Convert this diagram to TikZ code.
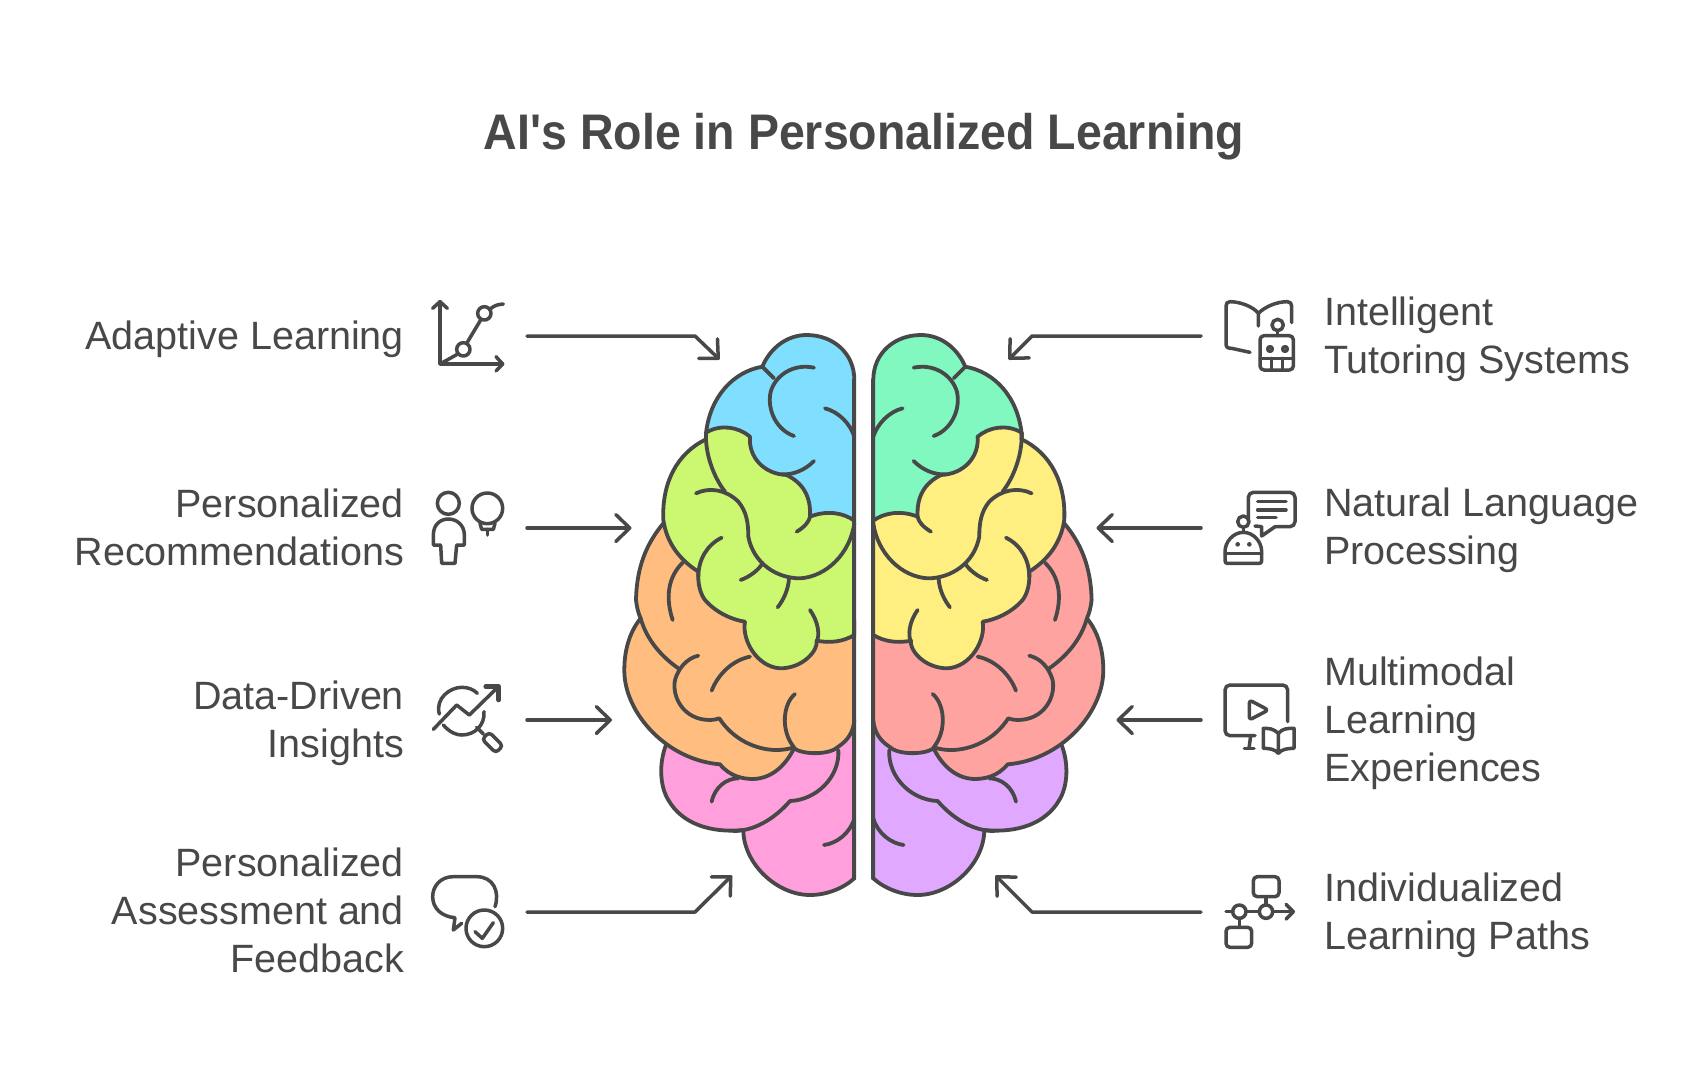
\documentclass[tikz,border=0pt]{standalone}
\usepackage{fontspec}
\setmainfont{Liberation Sans}
\newfontfamily\headfont[FakeStretch=0.93]{Liberation Sans}
\usetikzlibrary{arrows.meta}
\definecolor{ink}{HTML}{484848}
\definecolor{cblue}{HTML}{80DFFF}
\definecolor{cgreen}{HTML}{CCF871}
\definecolor{corange}{HTML}{FFBD80}
\definecolor{cpink}{HTML}{FFA0DD}
\definecolor{cteal}{HTML}{80F8C0}
\definecolor{cyellow}{HTML}{FFEE80}
\definecolor{csalmon}{HTML}{FFA3A0}
\definecolor{cpurple}{HTML}{E0A8FF}
\tikzset{
  brainline/.style={draw=ink,line width=3.8pt,line cap=round,line join=round},
  iconline/.style={draw=ink,line width=3.5pt,line cap=round,line join=round},
  link/.style={draw=ink,line width=3.5pt,line cap=round,line join=round,
    -{Straight Barb[length=14pt,width=27pt,line width=3.5pt,round]}},
  lefttext/.style={text=ink,anchor=east,align=right,font=\fontsize{39.5}{48}\selectfont},
  righttext/.style={text=ink,anchor=west,align=left,font=\fontsize{39.5}{48}\selectfont},
  titletext/.style={text=ink,font=\fontsize{50}{60}\selectfont\headfont\bfseries},
  zoomframe/.style={x=0.33333pt,y=-0.33333pt},
}
\newcommand{\hemisphere}[4]{%
  % lowest lobes
  \filldraw[brainline,fill=#4]
    (170,1270) .. controls (145,1330) and (150,1400) .. (175,1440)
    .. controls (215,1510) and (300,1540) .. (400,1530)
    .. controls (400,1630) and (500,1725) .. (600,1725)
    .. controls (650,1725) and (700,1705) .. (733,1675)
    -- (733,1200) -- cycle;
  \draw[brainline] (685,1290) .. controls (690,1370) and (620,1440) .. (540,1443)
    .. controls (490,1500) and (430,1533) .. (370,1533);
  \draw[brainline] (305,1445) .. controls (315,1400) and (350,1375) .. (385,1375);
  \draw[brainline] (642,1575) .. controls (680,1570) and (720,1540) .. (733,1495);
  % middle lobes
  \filldraw[brainline,fill=#3]
    (160,610) .. controls (110,670) and (80,740) .. (78,840)
    .. controls (80,860) and (85,880) .. (92,895)
    .. controls (55,940) and (42,1000) .. (43,1055)
    .. controls (45,1180) and (170,1320) .. (330,1333)
    .. controls (360,1370) and (400,1377) .. (430,1377)
    .. controls (490,1375) and (530,1330) .. (552,1285)
    .. controls (580,1305) and (660,1305) .. (685,1280)
    .. controls (715,1260) and (730,1235) .. (733,1200)
    -- (733,900) -- (300,700) -- cycle;
  \draw[brainline] (92,895) .. controls (110,960) and (155,1010) .. (205,1045);
  \draw[brainline] (265,1007) .. controls (230,1015) and (205,1045) .. (195,1080)
    .. controls (185,1130) and (220,1200) .. (300,1200)
    .. controls (310,1200) and (320,1198) .. (328,1195)
    .. controls (370,1260) and (440,1290) .. (500,1290)
    .. controls (520,1290) and (535,1287) .. (552,1282);
  \draw[brainline] (305,1112) .. controls (325,1060) and (370,1020) .. (420,1010);
  \draw[brainline] (555,1122) .. controls (520,1150) and (510,1230) .. (552,1282);
  \draw[brainline] (218,728) .. controls (175,770) and (165,830) .. (188,900);
  % top lobes
  \filldraw[brainline,fill=#1]
    (733,180) .. controls (733,100) and (670,45) .. (590,45)
    .. controls (530,45) and (480,85) .. (457,140)
    .. controls (370,155) and (300,230) .. (288,340)
    -- (300,600) -- (733,600) -- cycle;
  \draw[brainline] (457,140) -- (492,175);
  \draw[brainline] (612,143) .. controls (550,130) and (497,165) .. (482,215)
    .. controls (470,270) and (500,330) .. (552,348);
  \draw[brainline] (645,265) .. controls (685,275) and (720,310) .. (733,350);
  \draw[brainline] (612,423) .. controls (585,450) and (550,465) .. (515,463);
  % front lobes
  \filldraw[brainline,fill=#2]
    (288,338) .. controls (330,312) and (385,320) .. (420,350)
    .. controls (415,410) and (460,462) .. (530,465)
    .. controls (580,490) and (603,530) .. (600,590)
    .. controls (650,570) and (700,578) .. (733,602)
    -- (733,945)
    .. controls (700,965) and (660,970) .. (620,962)
    .. controls (625,990) and (580,1045) .. (510,1045)
    .. controls (440,1040) and (395,960) .. (405,905)
    .. controls (370,900) and (320,880) .. (285,840)
    .. controls (270,820) and (263,790) .. (265,755)
    .. controls (210,720) and (170,670) .. (160,600)
    .. controls (155,490) and (200,400) .. (288,358) -- cycle;
  \draw[brainline] (288,338) .. controls (285,400) and (310,470) .. (345,515);
  \draw[brainline] (258,520) .. controls (300,500) and (350,510) .. (385,545)
    .. controls (410,575) and (415,610) .. (415,650)
    .. controls (430,730) and (500,775) .. (570,775)
    .. controls (650,770) and (720,700) .. (733,610);
  \draw[brainline] (560,635) .. controls (585,620) and (597,605) .. (600,590);
  \draw[brainline] (335,653) .. controls (290,675) and (265,720) .. (265,770);
  \draw[brainline] (392,780) .. controls (420,770) and (445,750) .. (458,730);
  \draw[brainline] (537,775) .. controls (535,810) and (520,840) .. (503,862);
  \draw[brainline] (600,870) .. controls (625,905) and (630,945) .. (620,965);
  % midline
  \draw[brainline] (733,180) -- (733,1675);
}
\begin{document}
\begin{tikzpicture}[x=1pt,y=-1pt]
\useasboundingbox (0,0) rectangle (1704,1080);
\fill[white] (0,0) rectangle (1704,1080);
\node[titletext] (title) at (864,137) {AI\symbol{39}s Role in Personalized Learning};

% brain
\begin{scope}[shift={(610,320)},zoomframe]
  \hemisphere{cblue}{cgreen}{corange}{cpink}
\end{scope}
\begin{scope}[shift={(1117.6,320)},x=-0.33333pt,y=-0.33333pt]
  \hemisphere{cteal}{cyellow}{csalmon}{cpurple}
\end{scope}

% labels
\node[lefttext] (lab1) at (407.5,339.3) {Adaptive Learning};
\node[lefttext] (lab2) at (407.5,527) {Personalized\\Recommendations};
\node[lefttext] (lab3) at (407.5,723.3) {Data-Driven\\Insights};
\node[lefttext] (lab4) at (407.5,910.4) {Personalized\\Assessment and\\Feedback};
\node[righttext] (lab5) at (1320.7,339.3) {Intelligent\\Tutoring Systems};
\node[righttext] (lab6) at (1320.7,530.2) {Natural Language\\Processing};
\node[righttext] (lab7) at (1320.7,723.3) {Multimodal\\Learning\\Experiences};
\node[righttext] (lab8) at (1320.7,915.3) {Individualized\\Learning Paths};

% connector ends
\coordinate (a1s) at (527,336); \coordinate (a1b) at (695,336); \coordinate (a1t) at (719.5,359.5);
\coordinate (a2s) at (527,528); \coordinate (a2t) at (631.5,528);
\coordinate (a3s) at (527,720); \coordinate (a3t) at (612,720);
\coordinate (a4s) at (527,912); \coordinate (a4b) at (695,912); \coordinate (a4t) at (732,875.5);
\coordinate (a5s) at (1201,336); \coordinate (a5b) at (1032,336); \coordinate (a5t) at (1008.5,359.5);
\coordinate (a6s) at (1201,528); \coordinate (a6t) at (1096.5,528);
\coordinate (a7s) at (1201,720); \coordinate (a7t) at (1116.5,720);
\coordinate (a8s) at (1201,912); \coordinate (a8b) at (1032,912); \coordinate (a8t) at (995.5,875.5);
\draw[link] (a1s) -- (a1b) -- (a1t);
\draw[link] (a2s) -- (a2t);
\draw[link] (a3s) -- (a3t);
\draw[link] (a4s) -- (a4b) -- (a4t);
\draw[link] (a5s) -- (a5b) -- (a5t);
\draw[link] (a6s) -- (a6t);
\draw[link] (a7s) -- (a7t);
\draw[link] (a8s) -- (a8b) -- (a8t);

% icons, left column, upper
\begin{scope}[shift={(420,290)},zoomframe,iconline]
  \draw (60,35) -- (60,222) -- (248,222);
  \draw (38,55) -- (60,35) -- (82,55);
  \draw (228,200) -- (248,222) -- (228,243);
  \draw (60,222) -- (110,194);
  \draw (130,178) circle[radius=20];
  \draw (140,160) -- (182,90);
  \draw (193,70) circle[radius=20];
  \draw (213,55) .. controls (225,45) and (238,43) .. (250,42);
  \draw (85,640) circle[radius=33];
  \draw (62,765) -- (40,765) -- (40,735) .. controls (40,705) and (60,687) .. (85,687)
    .. controls (110,687) and (133,705) .. (133,735) -- (133,765) -- (110,765) -- (105,820)
    -- (65,820) -- cycle;
  \draw (202,655) circle[radius=46];
  \draw (180,700) -- (185,718) -- (220,718) -- (225,700);
  \draw (202,718) -- (202,735);
\end{scope}
% icons, left column, lower
\begin{scope}[shift={(420,670)},zoomframe,iconline]
  \draw (58,132) .. controls (45,85) and (90,52) .. (125,52) .. controls (145,52) and (160,58) .. (172,70);
  \draw (70,165) .. controls (90,188) and (110,195) .. (125,195) .. controls (165,195) and (195,165) .. (192,125);
  \draw (40,178) -- (110,105) -- (148,135) -- (233,52);
  \draw[line width=4.5pt] (197,50) -- (236,50) -- (236,90);
  \draw (170,172) -- (190,192);
  \draw[rounded corners=3.5pt] (207.6,186.4) -- (186.4,207.6) -- (227.4,248.6) -- (248.6,227.4) -- cycle;
  \draw (225,710) .. controls (240,665) and (220,620) .. (170,620) -- (100,620)
    .. controls (60,620) and (38,650) .. (38,680) .. controls (38,715) and (65,740) .. (105,743)
    -- (100,780) -- (125,760);
  \draw (193,775) circle[radius=55];
  \draw (165,785) -- (187,805) -- (220,758);
\end{scope}
% icons, right column, upper
\begin{scope}[shift={(1210,290)},zoomframe,iconline]
  \draw (145,108) -- (145,70) .. controls (130,50) and (90,35) .. (60,35)
    .. controls (52,35) and (48,40) .. (48,48) -- (48,160) .. controls (48,172) and (52,175) .. (65,175) -- (120,187);
  \draw (145,70) .. controls (165,50) and (200,35) .. (232,35) .. controls (240,35) and (245,40) .. (245,48) -- (245,98);
  \draw[rounded corners=4pt] (150,137) rectangle (250,240);
  \draw (150,205) -- (250,205);
  \draw (185,205) -- (185,240);
  \draw (218,205) -- (218,240);
  \draw (180,177) circle[radius=7];
  \draw (225,177) circle[radius=7];
  \draw (203,105) circle[radius=17];
  \draw (203,122) -- (203,137);
  \draw[rounded corners=5pt] (115,690) -- (115,607) -- (255,607) -- (255,710) -- (195,710);
  \draw (195,710) -- (155,738) -- (155,710) -- (135,708);
  \draw (143,635) -- (228,635);
  \draw (143,660) -- (228,660);
  \draw (143,682) -- (198,682);
  \draw (100,695) circle[radius=17];
  \draw (100,712) -- (100,727);
  \draw (45,785) .. controls (45,755) and (70,727) .. (100,727) .. controls (130,727) and (155,755) .. (155,785)
    -- (155,812) .. controls (155,818) and (152,820) .. (148,820) -- (52,820) .. controls (48,820) and (45,818) .. (45,812) -- cycle;
  \draw (45,790) -- (155,790);
  \fill[ink] (83,763) circle[radius=7];
  \fill[ink] (118,763) circle[radius=7];
\end{scope}
% icons, right column, lower
\begin{scope}[shift={(1210,670)},zoomframe,iconline]
  \draw[rounded corners=5pt] (233,155) -- (233,45) -- (45,45) -- (45,197) -- (135,197);
  \draw (122,197) -- (117,235);
  \draw (103,235) -- (132,235);
  \draw[rounded corners=3pt] (118,90) -- (175,120) -- (118,150) -- cycle;
  \draw (205,190) .. controls (190,175) and (175,175) .. (160,175) -- (160,235)
    .. controls (180,235) and (195,238) .. (205,250) .. controls (215,238) and (230,235) .. (252,235)
    -- (252,175) .. controls (232,175) and (218,175) .. (205,190) -- (205,250);
  \draw[rounded corners=4pt] (130,620) rectangle (207,680);
  \draw (168,680) -- (168,705);
  \draw (168,725) circle[radius=20];
  \draw (88,725) circle[radius=20];
  \draw (48,725) -- (68,725);
  \draw (108,725) -- (148,725);
  \draw (188,725) -- (250,725);
  \draw (228,703) -- (250,725) -- (228,747);
  \draw (88,745) -- (88,772);
  \draw[rounded corners=4pt] (48,772) rectangle (125,832);
\end{scope}
\end{tikzpicture}
\end{document}
